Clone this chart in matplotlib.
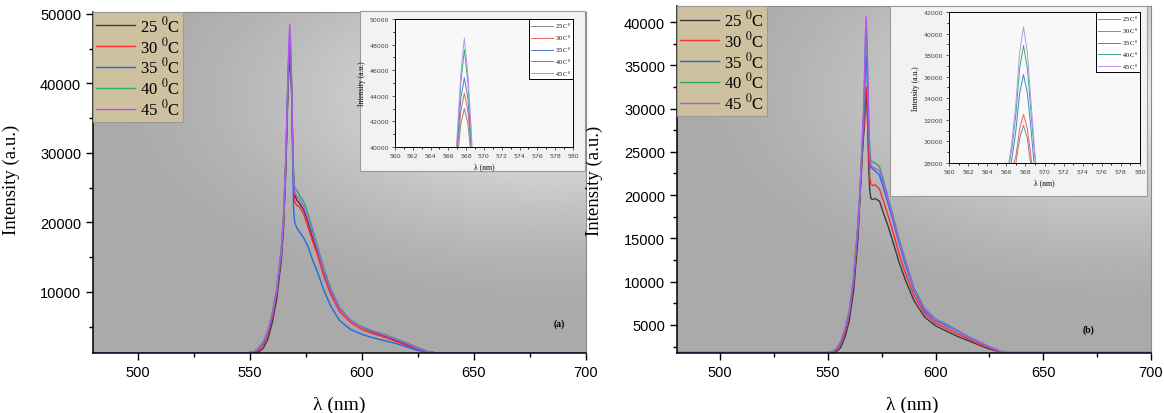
import numpy as np
import matplotlib.pyplot as plt
from matplotlib.patches import Rectangle
from matplotlib.ticker import MultipleLocator

plt.rcParams['mathtext.fontset'] = 'stix'

# wavelength grid (nm)
wl = [480, 520, 549, 552, 554, 556, 558, 560, 562, 564, 565, 566, 566.6, 567.0, 567.4,
      567.8, 568.2, 568.6, 569.0, 569.5, 570, 571, 572, 574, 576, 578, 580, 583, 586,
      590, 595, 600, 605, 610, 615, 620, 625, 630, 633, 700]

temps = ["25", "30", "35", "40", "45"]

# panel (a)
a_25 = [1250, 1250, 1250, 1250, 1400, 1900, 3200, 5600, 9000, 14500, 19000, 27000, 34000, 39000, 41800,
        43000, 41800, 39000, 33000, 26500, 24000, 23200, 22800, 21800, 20000, 17800, 15800, 12800, 10200,
        7600, 5900, 4900, 4200, 3600, 3000, 2400, 1800, 1350, 1250, 1250]
a_30 = [1250, 1250, 1250, 1300, 1700, 2400, 3900, 6300, 9800, 15200, 19800, 27800, 34500, 39600, 42800,
        44200, 42800, 39600, 33000, 26000, 23000, 22400, 22300, 21200, 19300, 17300, 15500, 12300, 9700,
        7200, 5600, 4600, 4000, 3500, 2900, 2300, 1800, 1350, 1250, 1250]
a_35 = [1250, 1250, 1250, 1400, 1900, 2700, 4300, 6800, 10300, 15800, 20500, 28500, 35500, 40000, 43800,
        45400, 43800, 40000, 31000, 22000, 20000, 19200, 18700, 17800, 16500, 14600, 13000, 10300, 8000,
        5900, 4600, 3900, 3400, 3000, 2600, 2100, 1600, 1250, 1250, 1250]
a_40 = [1250, 1250, 1250, 1450, 2000, 2800, 4400, 6900, 10500, 16000, 20800, 29000, 36000, 40600, 45000,
        47600, 45000, 40600, 33500, 27000, 25000, 24600, 24000, 23000, 21200, 19000, 16800, 13500, 10600,
        7800, 5900, 5000, 4400, 3900, 3300, 2700, 2000, 1400, 1250, 1250]
a_45 = [1250, 1250, 1250, 1400, 1950, 2750, 4300, 6800, 10400, 15900, 20700, 28800, 36200, 41000, 45700,
        48500, 45700, 41000, 33500, 26500, 24200, 23800, 23400, 22300, 20500, 18400, 16300, 13000, 10300,
        7600, 5800, 4900, 4300, 3800, 3200, 2600, 1900, 1350, 1250, 1250]

# panel (b)
b_25 = [1800, 1800, 1800, 1800, 1900, 2400, 3600, 5500, 9000, 15000, 20000, 24500, 26800, 28000, 30300,
        31500, 30300, 27500, 23000, 20500, 19600, 19500, 19600, 19300, 17800, 16400, 14800, 12300, 10200,
        7800, 5900, 4900, 4300, 3700, 3200, 2700, 2200, 1900, 1800, 1800]
b_30 = [1800, 1800, 1800, 1850, 2100, 2800, 4100, 6200, 9900, 16000, 20300, 25000, 27500, 28600, 31200,
        32500, 31200, 28500, 24500, 22000, 21300, 21100, 21200, 20700, 19200, 17600, 16000, 13300, 11000,
        8400, 6300, 5200, 4600, 4000, 3400, 2800, 2300, 1900, 1800, 1800]
b_35 = [1800, 1800, 1800, 1850, 2200, 3000, 4400, 6500, 10400, 16500, 20600, 25800, 28500, 31000, 34500,
        36200, 34500, 31000, 27000, 24000, 23200, 23000, 22800, 22300, 20700, 19000, 17300, 14500, 12000,
        9000, 6600, 5500, 4900, 4300, 3600, 3000, 2400, 1950, 1800, 1800]
b_40 = [1800, 1800, 1800, 1900, 2300, 3100, 4600, 6700, 10600, 16700, 20800, 26200, 29500, 32500, 36800,
        38900, 36800, 32500, 28500, 25000, 24000, 23800, 23700, 23300, 21600, 19700, 17900, 15000, 12500,
        9300, 6900, 5700, 5100, 4400, 3700, 3100, 2500, 2000, 1800, 1800]
b_45 = [1800, 1800, 1800, 1850, 2250, 3050, 4500, 6600, 10500, 16600, 20800, 26500, 30000, 33500, 38300,
        40600, 38300, 33500, 28800, 24500, 23500, 23200, 23100, 22800, 21200, 19400, 17600, 14800, 12300,
        9200, 6800, 5600, 5000, 4300, 3650, 3050, 2450, 1980, 1800, 1800]

main_colors = ["#3a3a3a", "#ff2a2a", "#1f6ae6", "#2fa862", "#b255f2"]
inset_colors = ["#888888", "#f06060", "#4a80d8", "#3cae7a", "#c090f0"]

serif = "Liberation Serif"
sans = "Liberation Sans"

fig = plt.figure(figsize=(11.64, 4.14), dpi=100)
fig.patch.set_facecolor("white")


def gray_bg(ax):
    yy, xx = np.mgrid[0:1:200j, 0:1:300j]
    d = np.sqrt(((xx - 0.92) / 1.0) ** 2 + ((yy - 0.75) / 0.7) ** 2)
    t = np.clip(1 - d / 0.9, 0, 1)
    g = 0.665 + 0.28 * t ** 1.4
    ax.imshow(g, extent=[0, 1, 0, 1], origin="lower", cmap="gray", vmin=0, vmax=1,
              transform=ax.transAxes, aspect="auto", zorder=0, interpolation="bilinear")


def main_panel(rect, series, ylim, ymaj, ymin_, lab, lab_xy):
    ax = fig.add_axes(rect)
    gray_bg(ax)
    for vals, c, t in zip(series, main_colors, temps):
        ax.plot(wl, vals, color=c, lw=1.0, label=t + " $^{0}$C", zorder=2)
    ax.set_xlim(480, 700)
    ax.set_ylim(*ylim)
    ax.xaxis.set_major_locator(MultipleLocator(50))
    ax.xaxis.set_minor_locator(MultipleLocator(25))
    ax.yaxis.set_major_locator(MultipleLocator(ymaj))
    ax.yaxis.set_minor_locator(MultipleLocator(ymin_))
    ax.tick_params(which="major", length=5, width=1, labelsize=10.5, direction="out")
    ax.tick_params(which="minor", length=3, width=1, direction="out")
    for lb in ax.get_xticklabels() + ax.get_yticklabels():
        lb.set_fontfamily(sans)
    for s in ["top", "right"]:
        ax.spines[s].set_color("#8a8a8a")
    for s in ["left", "bottom"]:
        ax.spines[s].set_linewidth(1.1)
    ax.set_xlabel("λ (nm)", fontfamily=serif, fontsize=14)
    ax.set_ylabel("Intensity (a.u.)", fontfamily=serif, fontsize=13.5)
    leg = ax.legend(loc="upper left", borderaxespad=0, fancybox=False, framealpha=1,
                    facecolor="#cdc19f", edgecolor="#9a9a9a", prop={"family": serif, "size": 12},
                    handlelength=2.3, labelspacing=0.05, handletextpad=0.3, borderpad=0.2)
    leg.get_frame().set_linewidth(0.8)
    leg.set_zorder(5)
    ax.text(lab_xy[0], lab_xy[1], lab, transform=ax.transAxes, fontfamily=serif,
            fontsize=7, fontweight="bold")
    return ax


def inset(box, rect, series, ylim, ymaj):
    fig.patches.append(Rectangle((box[0], box[1]), box[2], box[3], transform=fig.transFigure,
                                 facecolor="#f2f2f2", edgecolor="#9a9a9a", lw=0.8, zorder=1))
    ax = fig.add_axes(rect)
    ax.set_zorder(2)
    ax.set_facecolor("#f8f8f8")
    for vals, c, t in zip(series, inset_colors, temps):
        ax.plot(wl, vals, color=c, lw=0.7, label=t + " C$^{0}$")
    ax.set_xlim(560, 580)
    ax.set_ylim(*ylim)
    ax.xaxis.set_major_locator(MultipleLocator(2))
    ax.xaxis.set_minor_locator(MultipleLocator(1))
    ax.yaxis.set_major_locator(MultipleLocator(ymaj))
    ax.yaxis.set_minor_locator(MultipleLocator(ymaj / 2))
    ax.tick_params(which="major", length=2.5, width=0.6, labelsize=4.5, pad=1.5, colors="#444444")
    ax.tick_params(which="minor", length=1.5, width=0.6)
    for s in ax.spines.values():
        s.set_linewidth(0.7)
    ax.set_xlabel("λ (nm)", fontfamily=serif, fontsize=5.5, labelpad=3)
    ax.set_ylabel("Intensity (a.u.)", fontfamily=serif, fontsize=5.5, labelpad=3)
    leg = ax.legend(loc="upper right", borderaxespad=0, fancybox=False, framealpha=1,
                    facecolor="white", edgecolor="black", prop={"family": serif, "size": 4.5},
                    handlelength=3.5, labelspacing=0.35, handletextpad=0.3, borderpad=0.3)
    leg.get_frame().set_linewidth(0.7)
    return ax


ax_a = main_panel([0.0799, 0.145, 0.4235, 0.824], [a_25, a_30, a_35, a_40, a_45],
                  (1220, 50300), 10000, 5000, "(a)", (0.935, 0.08))
ax_a.xaxis.set_label_coords(0.5, -0.125)
ax_a.yaxis.set_label_coords(-0.148, 0.51)

ax_b = main_panel([0.5816, 0.145, 0.4072, 0.838], [b_25, b_30, b_35, b_40, b_45],
                  (1760, 41850), 5000, 2500, "(b)", (0.855, 0.06))
ax_b.xaxis.set_label_coords(0.496, -0.123)
ax_b.yaxis.set_label_coords(-0.156, 0.5)

inset([0.3093, 0.5845, 0.1933, 0.3865], [0.3393, 0.6425, 0.1529, 0.3092],
      [a_25, a_30, a_35, a_40, a_45], (40000, 50000), 2000)
inset([0.7646, 0.524, 0.2208, 0.459], [0.8153, 0.6039, 0.1641, 0.3647],
      [b_25, b_30, b_35, b_40, b_45], (28000, 42000), 2000)

fig.savefig("out.png", dpi=100)
